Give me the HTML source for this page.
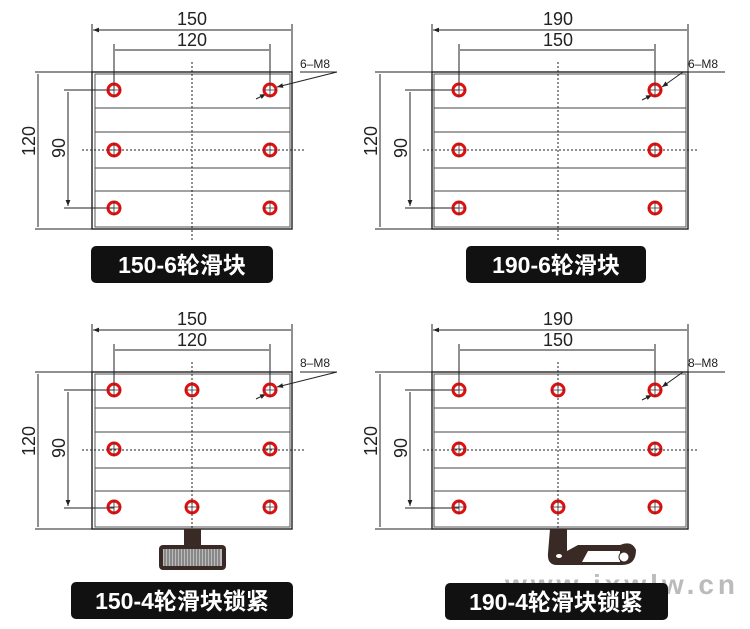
<!DOCTYPE html>
<html><head><meta charset="utf-8"><style>
body{margin:0;background:#fff}
svg{display:block}
.t{font-family:"Liberation Sans",sans-serif;font-size:18px;fill:#222}
.s{font-family:"Liberation Sans",sans-serif;font-size:12px;fill:#222}
.lb{font-family:"Liberation Sans","Noto Sans CJK SC",sans-serif;font-size:23px;font-weight:bold;fill:#fff}
</style></head><body>
<svg width="750" height="629" viewBox="0 0 750 629" xmlns="http://www.w3.org/2000/svg">
<defs>
<marker id="a" viewBox="0 0 10 10" refX="10" refY="5" markerWidth="8" markerHeight="6" orient="auto" markerUnits="userSpaceOnUse"><path d="M0,1 L10,5 L0,9z" fill="#222"/></marker>
<marker id="b" viewBox="0 0 10 10" refX="0" refY="5" markerWidth="8" markerHeight="6" orient="auto" markerUnits="userSpaceOnUse"><path d="M10,1 L0,5 L10,9z" fill="#222"/></marker>
<g id="hole"><circle r="6" fill="none" stroke="#e01010" stroke-width="3"/><path d="M-7,0H7M0,-7V7" stroke="#333" stroke-width="0.8"/></g>
</defs>
<text x="505" y="594" font-family="Liberation Sans,sans-serif" font-size="28" font-weight="bold" fill="#bbb" textLength="230" lengthAdjust="spacing">www.jxwlw.cn</text>

<g id="p1" stroke="#222" fill="none" stroke-width="1">
<rect x="92" y="72" width="200" height="157" stroke-width="1.4"/>
<rect x="95" y="74" width="195" height="153" stroke="#555"/>
<path d="M95,108H290M95,132H290M95,168H290M95,191H290" stroke="#444"/>
<path d="M92,72V24M292,72V24M114,90V44M270,90V44M35,72H92M35,229H92M64,90H114M64,208H114"/>
<path d="M93,30H291M115,50H269M38,74V227M68,92V206" marker-start="url(#b)" marker-end="url(#a)"/>
<path d="M192,62V242M82,150H305" stroke-dasharray="2,2"/>
<path d="M337,72L277,87" marker-end="url(#a)"/><path d="M300,72H337"/>
<path d="M256,99L266,94" marker-end="url(#a)"/>
</g>
<g id="p2" stroke="#222" fill="none" stroke-width="1">
<rect x="432" y="72" width="256" height="157" stroke-width="1.4"/>
<rect x="434" y="74" width="252" height="153" stroke="#555"/>
<path d="M434,108H686M434,132H686M434,168H686M434,191H686" stroke="#444"/>
<path d="M432,72V24M688,72V24M459,90V44M655,90V44M375,72H432M375,229H432M405,90H459M405,208H459"/>
<path d="M433,30H687M460,50H654M380,74V227M410,92V206" marker-start="url(#b)" marker-end="url(#a)"/>
<path d="M558,62V242M423,150H698" stroke-dasharray="2,2"/>
<path d="M683,72L662,87" marker-end="url(#a)"/><path d="M683,72H725"/>
<path d="M642,100L652,95" marker-end="url(#a)"/>
</g>
<use href="#p1" y="300"/>
<use href="#p2" y="300"/>

<use href="#hole" x="114" y="90"/><use href="#hole" x="270" y="90"/>
<use href="#hole" x="114" y="150"/><use href="#hole" x="270" y="150"/>
<use href="#hole" x="114" y="208"/><use href="#hole" x="270" y="208"/>
<use href="#hole" x="459" y="90"/><use href="#hole" x="655" y="90"/>
<use href="#hole" x="459" y="150"/><use href="#hole" x="655" y="150"/>
<use href="#hole" x="459" y="208"/><use href="#hole" x="655" y="208"/>
<use href="#hole" x="114" y="390"/><use href="#hole" x="192" y="390"/><use href="#hole" x="270" y="390"/>
<use href="#hole" x="114" y="449"/><use href="#hole" x="270" y="449"/>
<use href="#hole" x="114" y="507"/><use href="#hole" x="192" y="507"/><use href="#hole" x="270" y="507"/>
<use href="#hole" x="459" y="390"/><use href="#hole" x="558" y="390"/><use href="#hole" x="655" y="390"/>
<use href="#hole" x="459" y="449"/><use href="#hole" x="655" y="449"/>
<use href="#hole" x="459" y="507"/><use href="#hole" x="558" y="507"/><use href="#hole" x="655" y="507"/>

<g class="t" text-anchor="middle">
<text x="192" y="25">150</text><text x="192" y="46">120</text>
<text x="558" y="25">190</text><text x="558" y="46">150</text>
<text x="192" y="325">150</text><text x="192" y="346">120</text>
<text x="558" y="325">190</text><text x="558" y="346">150</text>
<text transform="translate(35,141) rotate(-90)">120</text>
<text transform="translate(65,148) rotate(-90)">90</text>
<text transform="translate(377,141) rotate(-90)">120</text>
<text transform="translate(407,148) rotate(-90)">90</text>
<text transform="translate(35,441) rotate(-90)">120</text>
<text transform="translate(65,448) rotate(-90)">90</text>
<text transform="translate(377,441) rotate(-90)">120</text>
<text transform="translate(407,448) rotate(-90)">90</text>
</g>
<g class="s">
<text x="300" y="68">6–M8</text><text x="688" y="68">6–M8</text>
<text x="300" y="367">8–M8</text><text x="688" y="367">8–M8</text>
</g>

<rect x="184" y="529" width="17" height="17" fill="#3a2a25"/>
<rect x="159" y="545" width="67" height="25" rx="4" fill="#3a2a25"/>
<rect x="163" y="549" width="59" height="17" fill="#bbb"/>
<path d="M165,549V566M168,549V566M171,549V566M174,549V566M177,549V566M180,549V566M183,549V566M186,549V566M189,549V566M192,549V566M195,549V566M198,549V566M201,549V566M204,549V566M207,549V566M210,549V566M213,549V566M216,549V566M219,549V566" stroke="#555" stroke-width="1"/>
<path d="M550,529H567V551L578,545H620Q632,540 636,550Q636,565 622,565H557Q547,565 548,553Z" fill="#3a2a25"/>
<path d="M582,562L588,551H620L620,562Z" fill="#fff"/>
<circle cx="624" cy="557" r="5" fill="#fff" stroke="#3a2a25" stroke-width="1"/>
<ellipse cx="559" cy="556" rx="3" ry="2" fill="#fff"/>

<rect x="91" y="246" width="182" height="37" rx="5" fill="#111"/>
<text class="lb" x="182" y="273" text-anchor="middle">150-6轮滑块</text>
<rect x="466" y="246" width="180" height="37" rx="5" fill="#111"/>
<text class="lb" x="556" y="273" text-anchor="middle">190-6轮滑块</text>
<rect x="71" y="582" width="222" height="37" rx="5" fill="#111"/>
<text class="lb" x="182" y="609" text-anchor="middle">150-4轮滑块锁紧</text>
<rect x="445" y="583" width="223" height="37" rx="5" fill="#111"/>
<text class="lb" x="556" y="610" text-anchor="middle">190-4轮滑块锁紧</text>
</svg>
</body></html>
